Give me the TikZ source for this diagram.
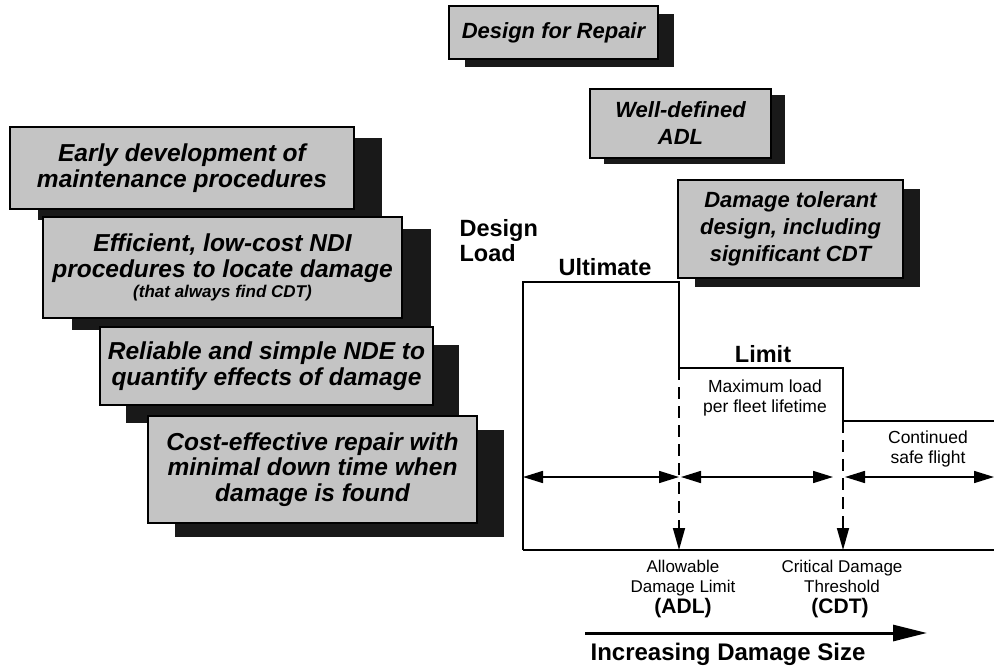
\documentclass[tikz,border=0pt]{standalone}
\usepackage{fontspec}
\setmainfont{Liberation Sans}
\usetikzlibrary{arrows.meta,shadows}
\begin{document}
\begin{tikzpicture}[x=1pt,y=-1pt,
  box/.style={draw=black, line width=1.5pt, fill=black!23, inner sep=0pt, align=center,
    font=\fontsize{24.5}{25.5}\selectfont\bfseries\itshape},
  topbox/.style={box, font=\fontsize{22}{27}\selectfont\bfseries\itshape},
  shd/.style 2 args={drop shadow={shadow xshift=#1pt, shadow yshift=-#2pt, fill=black!90, opacity=1}},
  chartline/.style={line width=2.6pt, line join=miter},
  dbl/.style={line width=1.6pt, {Triangle[length=20pt,width=12pt]}-{Triangle[length=20pt,width=12pt]}},
  dashdown/.style={line width=1.6pt, dash pattern=on 12pt off 7pt, -{Triangle[length=22pt,width=12pt]}},
  lbl/.style={anchor=base, font=\fontsize{17.5}{20}\selectfont},
  slbl/.style={anchor=base, font=\fontsize{17}{20}\selectfont},
  blbl/.style={anchor=base, font=\fontsize{23.5}{26}\selectfont\bfseries},
]
\clip (0,0) rectangle (994,669);
\fill[white] (0,0) rectangle (994,669);

% left stacked boxes
\node[box, shd={28}{11}, minimum width=344pt, minimum height=82pt] (b1) at (182,168)
  {Early development of\\maintenance procedures};
\node[box, shd={29}{12}, minimum width=359pt, minimum height=101pt] (b2) at (222.5,267.5)
  {Efficient, low-cost NDI\\procedures to locate damage\\[-5pt]{\fontsize{17}{18}\selectfont (that always find CDT)}};
\node[box, shd={26}{18}, minimum width=333pt, minimum height=78pt] (b3) at (266.5,366)
  {Reliable and simple NDE to\\quantify effects of damage};
\node[box, shd={27}{14}, minimum width=329pt, minimum height=107pt] (b4) at (312.5,469.5)
  {Cost-effective repair with\\minimal down time when\\damage is found};

% top boxes
\node[topbox, shd={16}{8}, minimum width=209pt, minimum height=53pt] (t1) at (553.5,32.5)
  {Design for Repair};
\node[topbox, shd={14}{6}, minimum width=181pt, minimum height=69pt] (t2) at (680.5,123.5)
  {Well-defined\\ADL};
\node[topbox, shd={17}{9}, minimum width=225pt, minimum height=98pt] (t3) at (790.5,229)
  {Damage tolerant\\design, including\\significant CDT};

% chart coordinates
\coordinate (o) at (523,550);
\coordinate (u1) at (523,282);
\coordinate (u2) at (679,282);
\coordinate (l1) at (679,368);
\coordinate (l2) at (843,368);
\coordinate (c1) at (843,421);
\coordinate (c2) at (1000,421);
\coordinate (br) at (1000,550);
\coordinate (adl) at (679,550);
\coordinate (cdt) at (843,550);

\draw[chartline] (o) -- (u1) -- (u2) -- (l1) -- (l2) -- (c1) -- (c2);
\draw[chartline] (o) -- (br);

\draw[dashdown] (l1) -- (adl);
\draw[dashdown] (c1) -- (cdt);

\coordinate (a1) at (523,477);
\coordinate (a2) at (679,477);
\coordinate (a3) at (681,477);
\coordinate (a4) at (833,477);
\coordinate (a5) at (845,477);
\coordinate (a6) at (994,477);
\draw[dbl] (a1) -- (a2);
\draw[dbl] (a3) -- (a4);
\draw[dbl] (a5) -- (a6);

% labels
\node[blbl, anchor=base west] (dl1) at (456,236) {Design};
\node[blbl, anchor=base west] (dl2) at (456,261) {Load};
\node[blbl] (ult) at (605,275) {Ultimate};
\node[blbl] (lim) at (763,362) {Limit};
\node[lbl] (max1) at (765,392) {Maximum load};
\node[lbl] (max2) at (765,412) {per fleet lifetime};
\node[lbl] (cont1) at (928,443) {Continued};
\node[lbl] (cont2) at (928,463) {safe flight};
\node[slbl] (adl1) at (683,572) {Allowable};
\node[slbl] (adl2) at (683,592) {Damage Limit};
\node[blbl, font=\fontsize{21}{24}\selectfont\bfseries] (adl3) at (683,613) {(ADL)};
\node[slbl] (cdt1) at (842,572) {Critical Damage};
\node[slbl] (cdt2) at (842,592) {Threshold};
\node[blbl, font=\fontsize{21}{24}\selectfont\bfseries] (cdt3) at (840,613) {(CDT)};

\coordinate (ia) at (585,633);
\coordinate (ib) at (927,633);
\draw[line width=3pt, -{Triangle[length=34pt,width=16pt]}] (ia) -- (ib);
\node[blbl, font=\fontsize{24}{26}\selectfont\bfseries] (inc) at (728,660) {Increasing Damage Size};
\end{tikzpicture}
\end{document}
